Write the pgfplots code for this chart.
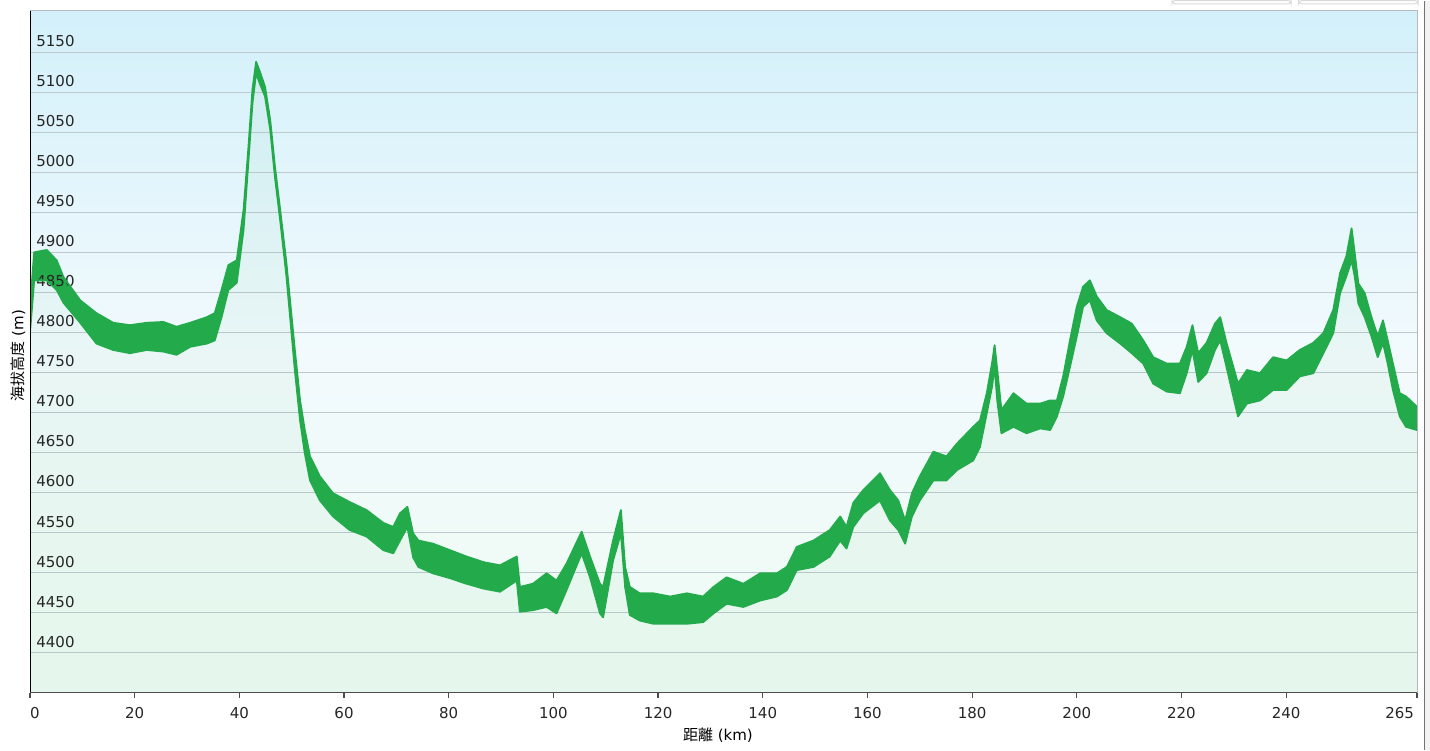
\documentclass[border=0pt]{standalone}
\usepackage{fontspec}
\setmainfont{DejaVu Sans}
\newfontfamily\cjk{Noto Sans CJK JP}
\usepackage{pgfplots}
\usepackage{pgfplotstable}
\pgfplotsset{compat=1.18}
\usepgfplotslibrary{fillbetween}

\definecolor{elev}{RGB}{35,170,75}
\definecolor{bgtop}{RGB}{211,240,250}
\definecolor{bgmid}{RGB}{242,250,253}
\definecolor{bgbot}{RGB}{238,251,244}
\definecolor{gridc}{RGB}{190,200,205}
\definecolor{framec}{RGB}{180,186,190}

% elevation profile: upper / lower edge of the noisy trace
\pgfplotstableread{
km    hi    lo
0.0   4832  4800
0.8   4900  4865
3.2   4903  4865
5.1   4890  4853
6.4   4869  4837
9.6   4840  4812
12.7  4824  4786
15.9  4812  4778
19.1  4809  4774
22.3  4812  4778
25.5  4813  4776
28.0  4807  4772
30.6  4812  4782
33.8  4819  4786
35.3  4824  4790
36.6  4853  4819
37.9  4884  4853
39.5  4890  4862
40.8  4953  4928
41.7  5028  5011
42.5  5103  5086
43.2  5138  5124
43.9  5126  5111
44.9  5107  5095
45.9  5065  5053
46.8  5007  4994
47.8  4953  4940
49.0  4886  4870
50.6  4778  4753
51.6  4715  4690
52.5  4678  4649
53.5  4645  4615
55.4  4620  4590
57.9  4599  4570
61.1  4588  4553
64.3  4578  4545
67.5  4562  4528
69.4  4557  4524
70.7  4574  4540
72.1  4582  4557
73.2  4549  4519
74.2  4540  4507
77.0  4536  4499
80.2  4528  4493
83.4  4520  4486
86.6  4513  4480
89.8  4509  4476
93.0  4520  4490
93.6  4482  4451
96.1  4486  4453
98.7  4499  4457
100.6 4490  4449
102.5 4511  4478
105.4 4551  4524
107.0 4520  4494
108.9 4486  4449
109.5 4482  4444
111.4 4540  4515
112.9 4578  4549
113.7 4507  4482
114.6 4482  4447
116.5 4474  4440
119.1 4474  4436
122.3 4470  4436
125.5 4474  4436
128.6 4470  4438
130.6 4482  4449
133.1 4494  4461
136.3 4486  4457
139.5 4499  4465
142.7 4499  4470
144.6 4507  4478
146.5 4532  4503
149.7 4540  4507
152.8 4553  4520
154.8 4570  4540
156.0 4557  4530
157.3 4587  4557
159.2 4603  4574
162.4 4624  4590
164.3 4603  4565
165.9 4590  4553
167.2 4565  4536
168.5 4599  4570
170.0 4620  4590
172.6 4651  4615
175.1 4645  4615
177.1 4661  4628
180.2 4682  4640
181.5 4690  4657
182.8 4724  4699
183.8 4761  4732
184.3 4784  4757
184.8 4753  4715
185.6 4703  4674
187.9 4724  4682
190.4 4711  4674
193.0 4711  4680
194.9 4715  4678
196.2 4715  4695
197.4 4745  4720
198.7 4790  4757
200.0 4832  4795
201.2 4857  4832
202.5 4865  4840
203.8 4845  4815
205.7 4828  4799
208.3 4819  4786
210.5 4811  4774
212.7 4790  4761
214.6 4769  4736
217.2 4761  4726
219.7 4761  4724
221.0 4782  4749
222.1 4809  4778
223.2 4774  4738
224.8 4787  4749
226.4 4811  4778
227.4 4819  4790
228.6 4787  4757
229.9 4757  4720
230.8 4736  4695
232.5 4753  4711
235.0 4749  4715
237.5 4769  4728
240.1 4765  4728
242.6 4778  4745
245.2 4787  4749
247.1 4799  4774
249.0 4828  4799
250.3 4874  4849
251.5 4895  4870
252.5 4930  4890
253.1 4899  4870
253.8 4861  4836
255.0 4849  4819
256.3 4819  4795
257.5 4795  4769
258.5 4815  4787
259.4 4790  4761
260.4 4761  4728
261.7 4724  4695
262.9 4720  4682
265.0 4707  4678
}\prof

\begin{document}
\begin{tikzpicture}
\path (-15pt,-28.5pt) rectangle (700pt,346pt);
\begin{axis}[
  at={(0,0)}, anchor=south west,
  scale only axis, width=693.5pt, height=341pt,
  xmin=0, xmax=265, ymin=4350, ymax=5202,
  axis background/.style={top color=bgtop, bottom color=bgbot, middle color=bgmid},
  axis line style={draw=framec, line width=0.5pt},
  ymajorgrids, grid style={gridc, line width=0.6pt},
  ytick={4400,4450,...,5150},
  ytick style={draw=none},
  xtick={20,40,...,240},
  extra x ticks={0,265},
  extra x tick labels={\rlap{0},\llap{265\hspace{1.5pt}}},
  extra x tick style={grid=none},
  xtick pos=bottom, tick align=outside, major tick length=2.5pt,
  xtick style={draw=black!70, line width=0.6pt},
  tick label style={font=\fontsize{7.5pt}{9pt}\selectfont, black!85},
  /pgf/number format/.cd, set thousands separator={}, assume math mode=true,
  /pgfplots/.cd,
  yticklabel style={anchor=base west, inner sep=0pt, xshift=5.5pt, yshift=2.75pt},
  xticklabel style={yshift=-1.5pt},
  xlabel={{\cjk 距離} (km)},
  ylabel={{\cjk 海拔高度} (m)},
  label style={font=\fontsize{7.5pt}{9pt}\selectfont},
  xlabel style={at={(rel axis cs:0.496,0)}, anchor=center, yshift=-21.5pt},
  ylabel style={at={(rel axis cs:0,0.494)}, anchor=center, yshift=6pt},
]
\addplot[name path=base, draw=none] coordinates {(0,4350) (265,4350)};
\addplot[name path=hi, elev, line width=0.9pt, line join=round] table[x=km, y=hi] {\prof};
\addplot[name path=lo, elev, line width=0.9pt, line join=round] table[x=km, y=lo] {\prof};
\addplot[fill=elev, fill opacity=0.045, draw=none] fill between[of=lo and base];
\addplot[elev] fill between[of=hi and lo];
\draw[black, line width=0.8pt] (rel axis cs:0,0) -- (rel axis cs:0,1);
\draw[black!70, line width=1pt] (rel axis cs:0,0) -- (rel axis cs:1,0);
\end{axis}
% widget frame: buttons at top right and the right-hand border
\draw[gray!30, fill=white, rounded corners=1.5pt, line width=0.5pt] (571pt,344.4pt) rectangle (630.5pt,346pt);
\draw[gray!30, fill=white, rounded corners=1.5pt, line width=0.5pt] (634.3pt,344.4pt) rectangle (694pt,346pt);
\fill[black!5] (697.3pt,-28.5pt) rectangle (700pt,346pt);
\draw[black!55, line width=0.6pt] (697.3pt,-28.5pt) -- (697.3pt,346pt);
\end{tikzpicture}
\end{document}
